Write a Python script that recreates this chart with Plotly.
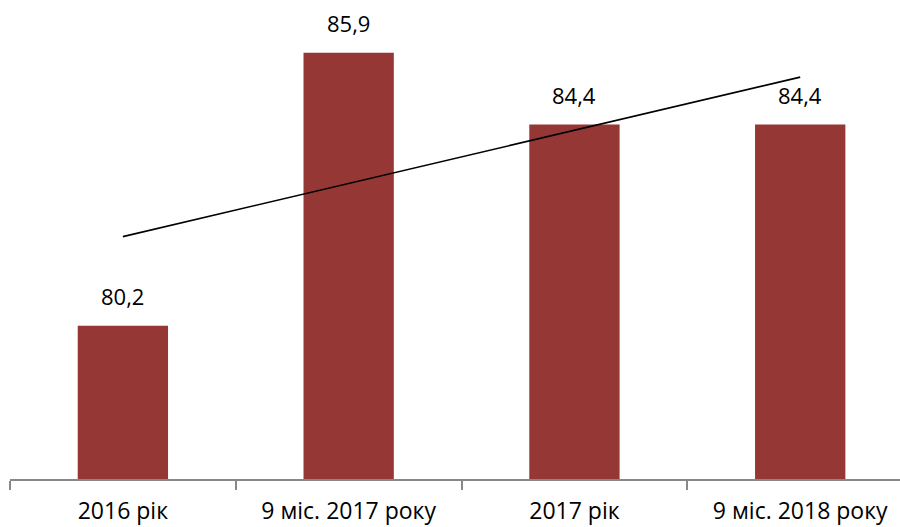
import numpy as np
import plotly.graph_objects as go

categories = ["2016 рік", "9 міс. 2017 року", "2017 рік", "9 міс. 2018 року"]
values = [80.2, 85.9, 84.4, 84.4]
value_labels = ["80,2", "85,9", "84,4", "84,4"]

xpos = np.arange(len(categories))
slope, intercept = np.polyfit(xpos + 1, values, 1)
trend = slope * (xpos + 1) + intercept

fig = go.Figure()
fig.add_trace(go.Bar(x=xpos, y=values, width=0.4, marker=dict(color="#953735", line=dict(width=0)),
                     showlegend=False, hoverinfo="skip"))
fig.add_trace(go.Scatter(x=[xpos[0], xpos[-1]], y=[trend[0], trend[-1]], mode="lines",
                         line=dict(color="black", width=1.6), showlegend=False, hoverinfo="skip"))

for xi, v, t in zip(xpos, values, value_labels):
    fig.add_annotation(x=xi, y=v, text=t, showarrow=False, yanchor="bottom", yshift=13,
                       font=dict(family="Open Sans", size=22, color="black"))

fig.update_layout(
    width=900, height=527,
    margin=dict(l=10, r=0, t=0, b=48),
    paper_bgcolor="white", plot_bgcolor="white",
    bargap=0.6,
    xaxis=dict(range=[-0.5, 3.442], tickmode="array", tickvals=list(xpos), ticktext=categories,
               ticks="", showline=True, linecolor="#888888", linewidth=1.5, showgrid=False, zeroline=False,
               automargin=False,
               tickfont=dict(family="Open Sans", size=23, color="black"), ticklabelstandoff=11,
               minor=dict(tickmode="array", tickvals=[-0.5, 0.5, 1.5, 2.5, 3.5], ticks="outside",
                          ticklen=9, tickwidth=1.5, tickcolor="#888888", showgrid=False)),
    yaxis=dict(range=[77, 87], visible=False, showgrid=False, zeroline=False, automargin=False),
)

fig.write_html("out.html", config={"displayModeBar": False},
               post_script="document.body.style.margin='0';document.body.style.overflow='hidden';")
